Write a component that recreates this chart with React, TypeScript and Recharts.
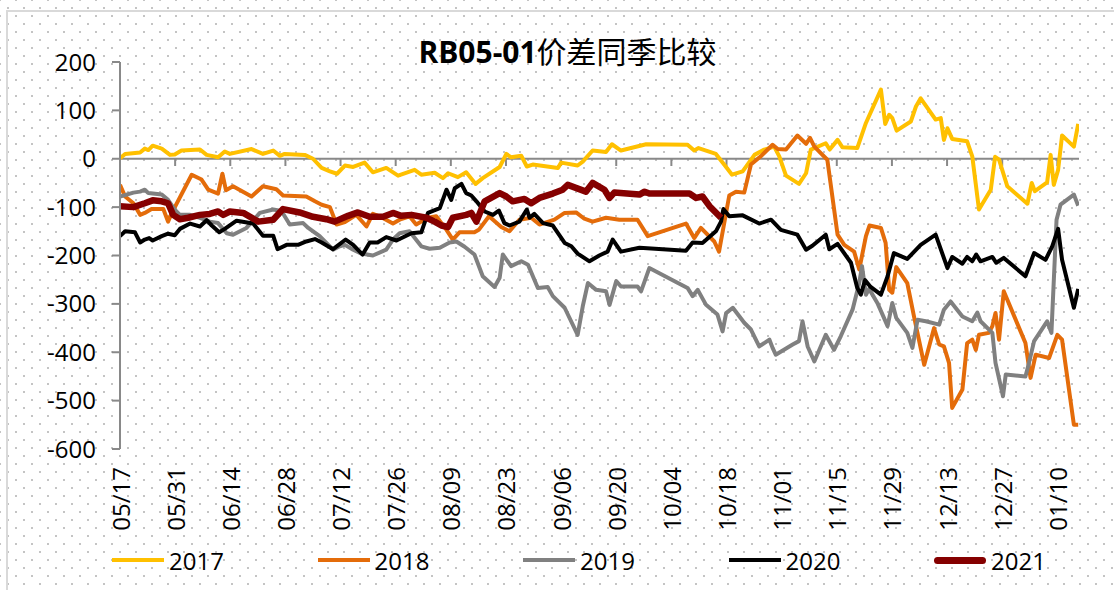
import { LineChart, Line, XAxis, YAxis, ReferenceLine } from 'recharts';

// day offsets are counted from 05/17
const dateLabels = ['05/17', '05/31', '06/14', '06/28', '07/12', '07/26', '08/09', '08/23', '09/06', '09/20', '10/04', '10/18', '11/01', '11/15', '11/29', '12/13', '12/27', '01/10'];
const labelDays = [0, 14, 28, 42, 56, 70, 84, 98, 112, 126, 140, 154, 168, 182, 196, 210, 224, 238];
const yTicks = [-600, -500, -400, -300, -200, -100, 0, 100, 200];

const seriesNames = ['2017', '2018', '2019', '2020', '2021'];

const y2017: [number, number][] = [
  [0, 1], [1.3, 10], [5.1, 13], [6.3, 21], [7.2, 18], [8.3, 27], [10.6, 21], [12.7, 8], [13.9, 9], [15.6, 17],
  [20.3, 19], [22, 8], [24.9, 3], [26.6, 15], [27.9, 10], [33.4, 20], [36.3, 10], [38.9, 17], [40.6, 6], [41.8, 10],
  [46.9, 8], [49, 0], [51.2, -19], [53.3, -26], [55.1, -31], [57.1, -14], [59.2, -17], [62.1, -8], [64.2, -28], [67.6, -19],
  [70.6, -35], [74.8, -23], [76.5, -33], [79.9, -29], [82, -40], [83.3, -30], [85.8, -38], [87.9, -28], [90.3, -52], [92.1, -40],
  [96.4, -17], [98.1, 10], [99.3, 3], [101.9, 6], [103.3, -16], [104.8, -12], [111.2, -19], [112, -8], [116.2, -14], [117.5, -6],
  [120, 17], [123.4, 14], [124.9, 30], [127.2, 17], [133.6, 30], [144.1, 29], [145.8, 17], [146.9, 22], [151.3, 10], [153.4, -12],
  [155.4, -33], [158.1, -26], [161.1, 8], [163.6, 19], [166.1, 25], [167.4, 5], [169.1, -35], [172.4, -52], [174.2, -30], [175.4, 19],
  [179.2, 32], [180.2, 19], [182.2, 39], [183.4, 24], [187.2, 22], [189.4, 74], [193.2, 143], [194.3, 72], [195.3, 91], [196.1, 84],
  [197.2, 58], [200.8, 77], [202.1, 108], [203.3, 125], [207.1, 81], [208.4, 84], [209.2, 39], [210.1, 63], [211.3, 41], [215.1, 36],
  [216.4, 5], [218.1, -105], [221.1, -64], [222.2, 4], [223.2, -2], [225.3, -57], [230.4, -93], [231.5, -50], [232.3, -67], [235.4, -49],
  [236.3, 8], [237.1, -54], [238.2, -23], [239.2, 48], [242.2, 25], [243.3, 72],
];

const y2018: [number, number][] = [
  [0, -54], [1.3, -78], [3.4, -92], [5.1, -116], [6.3, -112], [8, -104], [11, -104], [12.2, -130], [13.1, -113], [18.2, -33],
  [20.7, -43], [22.4, -64], [24.9, -72], [26, -31], [26.9, -65], [28.7, -57], [33.4, -78], [36.3, -57], [39.7, -63], [41.4, -76],
  [47.3, -78], [49.5, -88], [51.2, -95], [53.3, -100], [55, -136], [57.1, -131], [60, -116], [62.6, -140], [64.2, -114], [65.9, -119],
  [69.3, -134], [71, -126], [73.5, -119], [75.2, -136], [78.2, -122], [80.3, -119], [82.9, -147], [84.5, -167], [86.2, -152], [90, -152],
  [91.1, -147], [93.7, -119], [96.8, -141], [98.9, -150], [101.4, -126], [104.4, -122], [106.5, -136], [110.3, -126], [112.9, -112], [115.8, -111],
  [117.9, -124], [120, -130], [123.4, -122], [126.8, -126], [131.4, -126], [134, -160], [143.7, -134], [145.8, -164], [147.5, -143], [150.9, -171],
  [152.1, -192], [154.7, -76], [156.4, -68], [158.5, -70], [160.2, -12], [162.7, 5], [165.7, 29], [167, 20], [169.1, 19], [172, 48],
  [174.2, 31], [175.2, 43], [176.3, 25], [179.6, -2], [182.2, -157], [183.9, -178], [186.4, -192], [187.7, -229], [189.4, -160], [190.3, -138],
  [193.2, -143], [194.4, -174], [195.3, -271], [196.1, -277], [197.1, -224], [199.9, -257], [201.6, -326], [204.2, -426], [206.7, -350], [208, -384],
  [209.2, -388], [210.5, -422], [211.3, -515], [213.9, -477], [215.1, -381], [216.4, -374], [217.3, -395], [218.1, -364], [220.6, -360], [221.5, -346],
  [222.3, -319], [223.2, -374], [224.4, -274], [229.9, -381], [231.2, -453], [232.5, -405], [235.9, -412], [238, -364], [239.2, -374], [242.2, -550],
  [243.3, -550],
];

const y2019: [number, number][] = [
  [0, -78], [3.4, -70], [5.1, -68], [6.3, -64], [7.2, -71], [10.6, -74], [12.2, -85], [13.9, -105], [15.2, -116], [17.8, -116],
  [20.3, -122], [22.8, -130], [24.9, -133], [27.1, -154], [28.7, -157], [32.1, -143], [35.5, -112], [38.9, -105], [41, -108], [43.1, -136],
  [46.5, -133], [47.8, -143], [50.7, -160], [54.1, -188], [55.8, -181], [57.1, -178], [59.2, -188], [61.3, -196], [64.2, -200], [67.6, -188],
  [69.3, -167], [71, -154], [73.5, -150], [76.5, -181], [78.6, -186], [81.2, -184], [83.7, -173], [85.4, -171], [87.5, -182], [90, -198],
  [92.1, -243], [95.1, -265], [96.4, -246], [97.2, -198], [99.3, -222], [101.9, -212], [103.6, -219], [106.1, -267], [108.6, -265], [109.9, -284],
  [112.9, -308], [116.2, -364], [117.5, -305], [118.8, -257], [120.9, -271], [123.4, -274], [124.3, -302], [126, -253], [127.2, -264], [131.4, -264],
  [132.3, -274], [134.4, -226], [144.1, -267], [145.4, -284], [146.7, -271], [148.8, -302], [151.7, -322], [153, -357], [153.9, -319], [155.6, -308],
  [158.5, -339], [160.2, -353], [162.3, -388], [164.9, -374], [165.7, -391], [166.5, -405], [170.8, -384], [172.4, -377], [173.3, -336], [174.6, -388],
  [176.3, -419], [179.2, -364], [181.3, -395], [183, -367], [186, -312], [187.7, -257], [188.4, -222], [189.4, -281], [190.2, -269], [192.3, -298],
  [194.9, -346], [196.1, -298], [197.1, -329], [199.9, -360], [201.2, -391], [202.5, -333], [204.6, -336], [208, -343], [209.2, -312], [210.9, -295],
  [213.9, -326], [216.4, -336], [217.7, -318], [218.5, -336], [221.5, -360], [222.3, -422], [224.2, -491], [224.9, -446], [229.9, -450], [230.8, -422],
  [232.1, -377], [235.4, -336], [236.5, -360], [237.8, -126], [238.8, -95], [242.2, -74], [243.3, -97],
];

const y2020: [number, number][] = [
  [0, -160], [1.3, -150], [3.8, -152], [5.1, -173], [6.3, -167], [7.4, -164], [8.3, -169], [10.6, -160], [12.2, -155], [13.9, -158],
  [15.2, -145], [17.8, -134], [20.3, -140], [22, -127], [23.3, -138], [25.2, -152], [26.6, -145], [29.6, -128], [33.8, -134], [36.3, -159],
  [38.9, -159], [40, -187], [42.3, -178], [45.2, -178], [47.3, -171], [49.5, -166], [51.2, -173], [54.1, -187], [57.3, -167], [59.2, -178],
  [61.6, -198], [63.4, -173], [65.4, -173], [67.6, -162], [70.2, -169], [74, -154], [76.5, -152], [78.2, -112], [81.2, -102], [82.9, -64],
  [84.1, -85], [85, -61], [86.7, -52], [87.9, -71], [89.2, -76], [90.5, -88], [92.6, -109], [94.7, -116], [96.2, -107], [97.6, -133],
  [98.9, -138], [101.4, -130], [103.3, -105], [104, -122], [105.2, -114], [107.4, -133], [109.9, -138], [112.9, -174], [114.6, -181], [116.2, -196],
  [119.2, -212], [121.7, -200], [123.8, -192], [125.1, -167], [127.2, -192], [131.9, -184], [143.7, -190], [145.4, -173], [147.9, -174], [151.3, -150],
  [152.6, -130], [153.2, -104], [154.7, -119], [158.1, -117], [162.3, -134], [165.3, -126], [167.8, -147], [172, -157], [174.2, -188], [175.8, -180],
  [179.2, -157], [180.1, -187], [182.2, -176], [185.6, -215], [187.2, -267], [188.1, -281], [189.2, -251], [190.6, -265], [193.2, -281], [194.9, -243],
  [196.5, -195], [199.9, -207], [203.3, -178], [207.1, -157], [210.1, -226], [211.3, -203], [213.9, -217], [215.1, -203], [216.4, -212], [217.4, -198],
  [218.5, -212], [221.5, -203], [222.5, -215], [224.4, -205], [229.9, -243], [232.1, -195], [235, -209], [236.7, -181], [238.2, -145], [239.2, -209],
  [242.2, -308], [243.3, -269],
];

const y2021: [number, number][] = [
  [0, -98], [3.4, -100], [6.3, -92], [8.3, -86], [10.6, -88], [12.2, -92], [13.5, -116], [15.2, -125], [17.3, -122], [20.3, -116],
  [22.8, -114], [24.9, -109], [26.2, -116], [27.9, -109], [31.3, -112], [35.1, -130], [38.9, -126], [41.4, -104], [45.6, -111], [49, -120],
  [52.4, -125], [54.5, -130], [57.9, -118], [60.4, -111], [63.4, -120], [66.8, -120], [69.3, -112], [71.4, -118], [74, -116], [77.8, -122],
  [79.9, -130], [81.6, -138], [83.3, -141], [84.5, -122], [87.9, -116], [89.2, -112], [90.5, -130], [92.6, -88], [96.4, -71], [98.1, -78],
  [99.7, -88], [102.7, -83], [104.4, -92], [106.5, -81], [109.9, -72], [112.4, -64], [113.7, -54], [118.3, -68], [120, -50], [123, -64],
  [124.3, -81], [125.5, -70], [131.9, -74], [133.2, -68], [134.4, -72], [144.6, -72], [146.3, -81], [147.9, -78], [149.7, -98], [152.6, -122],
];

const FONT = '"Open Sans", "Noto Sans", sans-serif';
const AXIS_GRAY = '#898989';

const series = [
  { name: seriesNames[0], points: y2017, color: '#FFC000', width: 4 },
  { name: seriesNames[1], points: y2018, color: '#E46C0A', width: 4 },
  { name: seriesNames[2], points: y2019, color: '#808080', width: 4 },
  { name: seriesNames[3], points: y2020, color: '#000000', width: 4 },
  { name: seriesNames[4], points: y2021, color: '#850000', width: 6.5 },
];

function DateTick({ x, y, payload }: { x?: number; y?: number; payload?: { value: number } }) {
  if (x == null || y == null || !payload) return null;
  const idx = labelDays.indexOf(payload.value);
  const ty = y + 18;
  return (
    <text
      x={x}
      y={ty}
      transform={`rotate(-90 ${x} ${ty})`}
      textAnchor="end"
      dominantBaseline="central"
      fontSize={24}
      fontFamily={FONT}
      fill="#000"
    >
      {dateLabels[idx]}
    </text>
  );
}

export default function App() {
  return (
    <div
      style={{
        position: 'relative',
        width: 1114,
        height: 590,
        overflow: 'hidden',
        background: '#fff',
        backgroundImage:
          'radial-gradient(circle, #c4c4c4 1px, transparent 1.4px), radial-gradient(circle, #c4c4c4 1px, transparent 1.4px)',
        backgroundSize: '16px 16px, 16px 16px',
        backgroundPosition: '0 0, 8px 8px',
      }}
    >
      <style>{'body{margin:0}'}</style>
      <div
        style={{
          position: 'absolute',
          left: 6,
          top: 10,
          width: 1200,
          height: 700,
          borderLeft: '2px solid #d9d9d9',
          borderTop: '2px solid #d9d9d9',
        }}
      />
      <div
        style={{
          position: 'absolute',
          left: 0,
          width: 1135,
          top: 30,
          textAlign: 'center',
          fontSize: 30,
          lineHeight: '40px',
          color: '#000',
          whiteSpace: 'nowrap',
        }}
      >
        <span style={{ fontFamily: FONT, fontWeight: 700 }}>RB05-01</span>
        <span style={{ fontFamily: '"Noto Sans CJK SC", sans-serif', fontWeight: 400 }}>价差同季比较</span>
      </div>
      <div style={{ position: 'absolute', left: 0, top: 0 }}>
        <LineChart width={1114} height={590} margin={{ top: 62, right: 35, left: 0, bottom: 0 }}>
          <XAxis
            type="number"
            dataKey="day"
            domain={[0, 243.5]}
            ticks={labelDays}
            interval={0}
            allowDataOverflow
            height={141}
            tickSize={0}
            tickMargin={0}
            tickLine={false}
            axisLine={false}
            tick={<DateTick />}
          />
          <YAxis
            type="number"
            domain={[-600, 200]}
            ticks={yTicks}
            interval={0}
            width={120}
            tickSize={8}
            tickMargin={16}
            axisLine={{ stroke: AXIS_GRAY, strokeWidth: 2 }}
            tickLine={{ stroke: AXIS_GRAY, strokeWidth: 2 }}
            tick={{ fontSize: 24, fill: '#000', fontFamily: FONT }}
          />
          <ReferenceLine y={0} stroke={AXIS_GRAY} strokeWidth={2} />
          {labelDays.slice(1).map((d) => (
            <ReferenceLine
              key={d}
              segment={[{ x: d, y: 0 }, { x: d, y: -15 }]}
              stroke={AXIS_GRAY}
              strokeWidth={2}
            />
          ))}
          {series.map((s) => (
            <Line
              key={s.name}
              name={s.name}
              data={s.points.map(([day, v]) => ({ day, v }))}
              dataKey="v"
              type="linear"
              stroke={s.color}
              strokeWidth={s.width}
              strokeLinejoin="round"
              dot={false}
              activeDot={false}
              isAnimationActive={false}
            />
          ))}
        </LineChart>
      </div>
      <div style={{ position: 'absolute', left: 112, top: 543, display: 'flex' }}>
        {series.map((s) => (
          <div key={s.name} style={{ width: 205.5, display: 'flex', alignItems: 'center', height: 34 }}>
            <span
              style={{
                display: 'inline-block',
                width: 52,
                height: s.width > 5 ? 7 : 4,
                borderRadius: s.width > 5 ? 3.5 : 0,
                background: s.color,
              }}
            />
            <span style={{ marginLeft: 5, fontSize: 24, fontFamily: FONT, color: '#000' }}>{s.name}</span>
          </div>
        ))}
      </div>
    </div>
  );
}
